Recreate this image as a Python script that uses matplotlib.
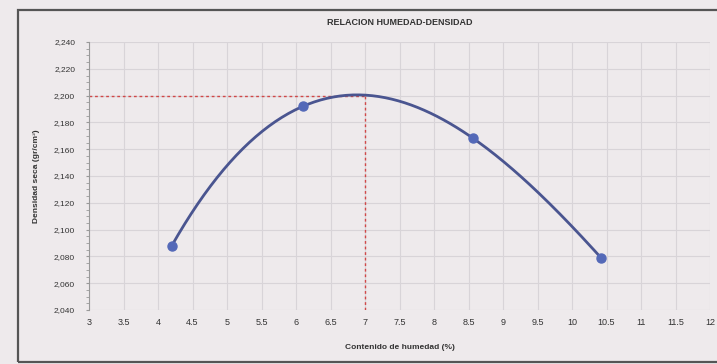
import numpy as np
import matplotlib.pyplot as plt
from matplotlib.patches import Rectangle

plt.rcParams['font.family'] = ['Liberation Sans', 'DejaVu Sans']

# puntos del ensayo proctor
humedad = [4.20, 6.10, 8.57, 10.42]
densidad = [2.088, 2.192, 2.168, 2.079]
hum_opt = 7.0
dens_max = 2.200

x_ticks = [3, 3.5, 4, 4.5, 5, 5.5, 6, 6.5, 7, 7.5, 8, 8.5, 9, 9.5, 10, 10.5, 11, 11.5, 12]
y_ticks = [2.040, 2.060, 2.080, 2.100, 2.120, 2.140, 2.160, 2.180, 2.200, 2.220, 2.240]

bg = '#eeeaec'
fig = plt.figure(figsize=(7.17, 3.64), dpi=100, facecolor=bg)

# borde del grafico (el lado derecho queda fuera de la foto)
fig.patches.append(Rectangle((18 / 717, 2 / 364), 1.05, 352 / 364,
                             transform=fig.transFigure, fill=False, clip_on=False,
                             edgecolor='#555555', linewidth=1.6, zorder=1))

ax = fig.add_axes([89 / 717, 54 / 364, 621 / 717, 268 / 364])
ax.set_facecolor('none')

# curva ajustada
coef = np.polyfit(humedad, densidad, 3)
xs = np.linspace(humedad[0], humedad[-1], 200)
ax.plot(xs, np.polyval(coef, xs), color='#4a5590', linewidth=2, zorder=3)
ax.plot(humedad, densidad, 'o', color='#5469b8', markersize=6.5, zorder=4)

# lineas de humedad optima / densidad maxima
ax.plot([3, hum_opt], [dens_max, dens_max], linestyle=(0, (2, 2)), color='#d04848', linewidth=1, zorder=2)
ax.plot([hum_opt, hum_opt], [2.040, dens_max], linestyle=(0, (2, 2)), color='#d04848', linewidth=1, zorder=2)

ax.set_xlim(3, 12)
ax.set_ylim(2.040, 2.240)
ax.set_xticks(x_ticks)
ax.set_xticklabels([('%g' % v) for v in x_ticks], fontsize=6.5, color='#333333')
ax.set_yticks(y_ticks)
ax.set_yticklabels([('%.3f' % v).replace('.', ',') for v in y_ticks], fontsize=6, color='#333333')
ax.set_yticks(np.arange(2.040, 2.2401, 0.005), minor=True)
ax.grid(True, color='#d8d4d8', linewidth=0.8)
for s in ['top', 'right', 'bottom']:
    ax.spines[s].set_visible(False)
ax.spines['left'].set_color('#999999')
ax.tick_params(axis='x', length=0, pad=6)
ax.tick_params(axis='y', which='both', length=2, color='#999999', pad=8)

ax.set_title('RELACION HUMEDAD-DENSIDAD', fontsize=6.5, fontweight='bold', color='#333333', pad=12)
ax.set_xlabel('Contenido de humedad (%)', fontsize=6, fontweight='bold', color='#333333', labelpad=12)
ax.set_ylabel('Densidad seca (gr/cm³)', fontsize=6, fontweight='bold', color='#333333', labelpad=10)

fig.savefig('out.png', dpi=100, facecolor=bg)
